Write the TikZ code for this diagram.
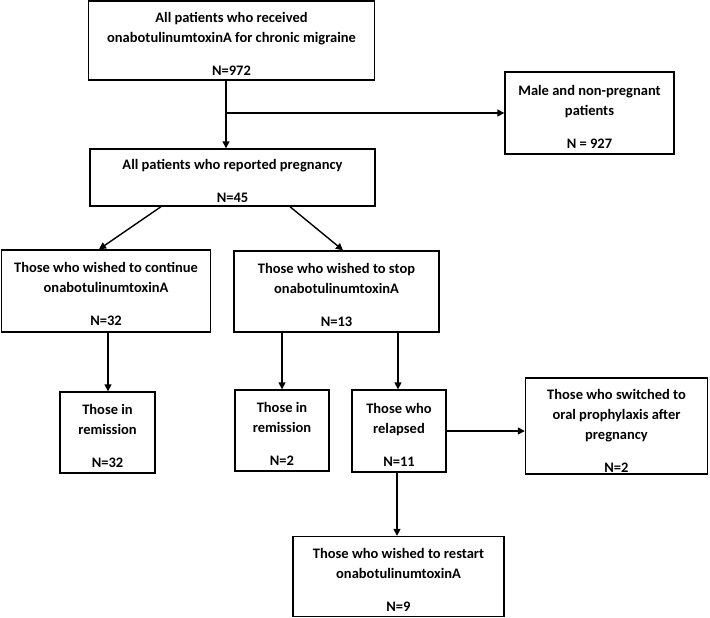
\documentclass[tikz,border=0pt]{standalone}
\usepackage{fontspec}
\setmainfont{Carlito}
\usetikzlibrary{arrows.meta}
\newcommand\fstr{\rule{0pt}{17pt}}
\begin{document}
\begin{tikzpicture}[x=1pt,y=-1pt,
  box/.style={draw=black,line width=1.4pt,rectangle,inner sep=0pt,align=center,
    font=\bfseries\fontsize{14.5}{20}\selectfont},
  arr/.style={line width=1.4pt,-{Triangle[length=7pt,width=7pt]}}]
\useasboundingbox (0,0) rectangle (710,618);
\node[box,minimum width=286pt,minimum height=79pt] (b1) at (231.5,40.5)
  {\fstr All patients who received\\onabotulinumtoxinA for chronic migraine\\[13pt]N=972};
\node[box,minimum width=169pt,minimum height=82pt] (male) at (589.5,113)
  {\fstr Male and non-pregnant\\patients\\[13pt]N = 927};
\node[box,minimum width=285pt,minimum height=57pt] (preg) at (232.5,177.5)
  {\fstr All patients who reported pregnancy\\[13pt]N=45};
\node[box,minimum width=209pt,minimum height=82pt] (cont) at (106,291)
  {\fstr Those who wished to continue\\onabotulinumtoxinA\\[13pt]N=32};
\node[box,minimum width=205pt,minimum height=81pt] (stop) at (336.5,291.5)
  {\fstr Those who wished to stop\\onabotulinumtoxinA\\[13pt]N=13};
\node[box,minimum width=95pt,minimum height=81pt] (rem1) at (107.5,432.5)
  {\fstr Those in\\remission\\[13pt]N=32};
\node[box,minimum width=94pt,minimum height=81pt] (rem2) at (282,430.5)
  {\fstr Those in\\remission\\[13pt]N=2};
\node[box,minimum width=94pt,minimum height=82pt] (rel) at (399,431)
  {\fstr Those who\\relapsed\\[13pt]N=11};
\node[box,minimum width=182pt,minimum height=96pt] (sw) at (616.5,426)
  {\rule{0pt}{19pt}Those who switched to\\oral prophylaxis after\\pregnancy\\[13pt]N=2};
\node[box,minimum width=211pt,minimum height=80pt] (rst) at (398.5,576.5)
  {\fstr Those who wished to restart\\onabotulinumtoxinA\\[13pt]N=9};
% connectors
\coordinate (br) at (226,113);
\draw[arr] ([xshift=-5.5pt]b1.south) -- ([xshift=-6.5pt]preg.north);
\draw[arr] (br) -- (male.west);
\draw[arr] ([xshift=-71.5pt]preg.south) -- ([xshift=-7pt]cont.north);
\draw[arr] ([xshift=57.5pt]preg.south) -- ([xshift=6.5pt]stop.north);
\draw[arr] ([xshift=2pt]cont.south) -- ([xshift=0.5pt]rem1.north);
\draw[arr] ([xshift=-54.5pt]stop.south) -- (rem2.north);
\draw[arr] ([xshift=-1pt]stop.south -| rel.north) -- ([xshift=-1pt]rel.north);
\draw[arr] (rel.east) -- (sw.west |- rel.east);
\draw[arr] ([xshift=-2pt]rel.south) -- ([xshift=-1.5pt]rst.north);
\end{tikzpicture}
\end{document}
